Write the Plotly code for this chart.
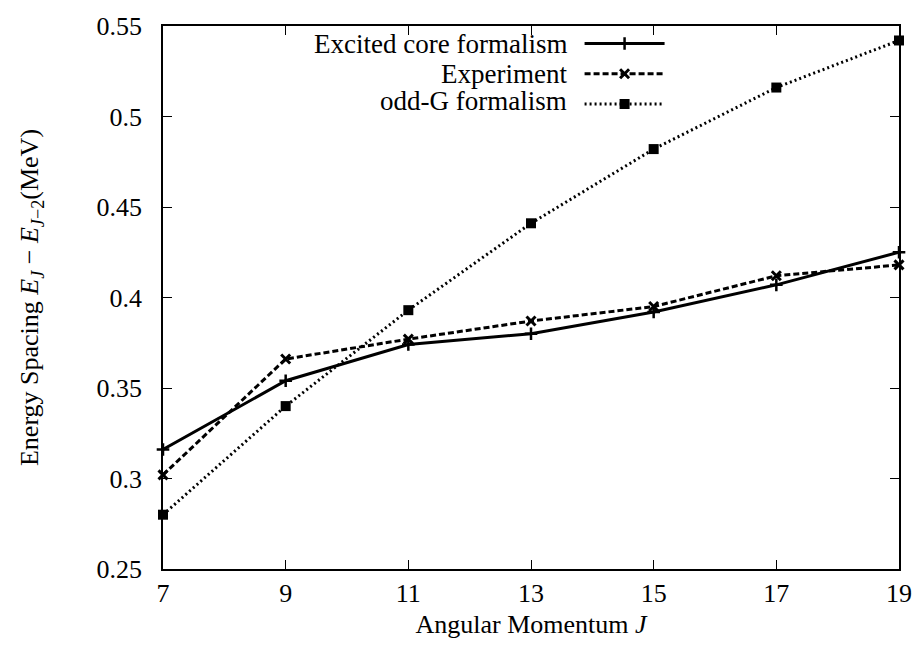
import plotly.graph_objects as go

J = [7, 9, 11, 13, 15, 17, 19]
excited_core = [0.316, 0.354, 0.374, 0.380, 0.392, 0.407, 0.425]
experiment = [0.302, 0.366, 0.377, 0.387, 0.395, 0.412, 0.418]
odd_g = [0.280, 0.340, 0.393, 0.441, 0.482, 0.516, 0.542]
names = ["Excited core formalism", "Experiment", "odd-G formalism"]
ytickvals = [0.25, 0.30, 0.35, 0.40, 0.45, 0.50, 0.55]
yticktext = ["0.25", "0.3", "0.35", "0.4", "0.45", "0.5", "0.55"]

FONT = "Liberation Serif, Times New Roman, serif"
FS = 26
fig = go.Figure()
fig.add_trace(go.Scatter(
    x=J, y=excited_core, mode="lines+markers", name=" ",
    line=dict(color="black", width=3, dash="solid"),
    marker=dict(symbol="cross-thin-open", size=9, color="black",
                line=dict(width=2.5, color="black")),
    cliponaxis=False))
fig.add_trace(go.Scatter(
    x=J, y=experiment, mode="lines+markers", name=" ",
    line=dict(color="black", width=3, dash="6px,3px"),
    marker=dict(symbol="x-thin-open", size=9, color="black",
                line=dict(width=3, color="black")),
    cliponaxis=False))
fig.add_trace(go.Scatter(
    x=J, y=odd_g, mode="lines+markers", name=" ",
    line=dict(color="black", width=3, dash="2px,3px"),
    marker=dict(symbol="square", size=10, color="black",
                line=dict(width=0, color="black")),
    cliponaxis=False))

ann_y = [0.9665, 0.9125, 0.8615]
for nm, yy in zip(names, ann_y):
    fig.add_annotation(text=nm, x=0.552, y=yy, xref="paper", yref="paper",
                       xanchor="right", yanchor="middle", showarrow=False,
                       font=dict(family=FONT, size=FS + 1, color="black"))

axis_common = dict(showline=True, linecolor="black", linewidth=1.5, mirror="ticks",
                   ticks="inside", ticklen=9, tickwidth=1, tickcolor="black",
                   showgrid=False, zeroline=False,
                   tickfont=dict(family=FONT, size=FS, color="black"))
fig.update_xaxes(range=[7, 19], tickvals=J, ticktext=[str(j) for j in J],
                 title=dict(text="Angular Momentum <i>J</i>", standoff=8,
                            font=dict(family=FONT, size=FS, color="black")),
                 **axis_common)
fig.update_yaxes(range=[0.25, 0.55], tickvals=ytickvals, ticktext=yticktext,
                 ticklabelstandoff=14,
                 title=dict(text="Energy Spacing <i>E</i><sub><i>J</i></sub> − <i>E</i><sub><i>J</i>−2</sub>(MeV)",
                            standoff=50,
                            font=dict(family=FONT, size=FS, color="black")),
                 **axis_common)
fig.update_layout(
    width=924, height=660,
    margin=dict(l=163, r=17, t=21, b=91, pad=0),
    paper_bgcolor="white", plot_bgcolor="white",
    showlegend=True,
    legend=dict(x=0.566, y=1.005, xanchor="left", yanchor="top",
                bgcolor="rgba(0,0,0,0)", itemwidth=80, tracegroupgap=0,
                font=dict(family=FONT, size=21, color="black")),
)
fig.write_html("out.html")
